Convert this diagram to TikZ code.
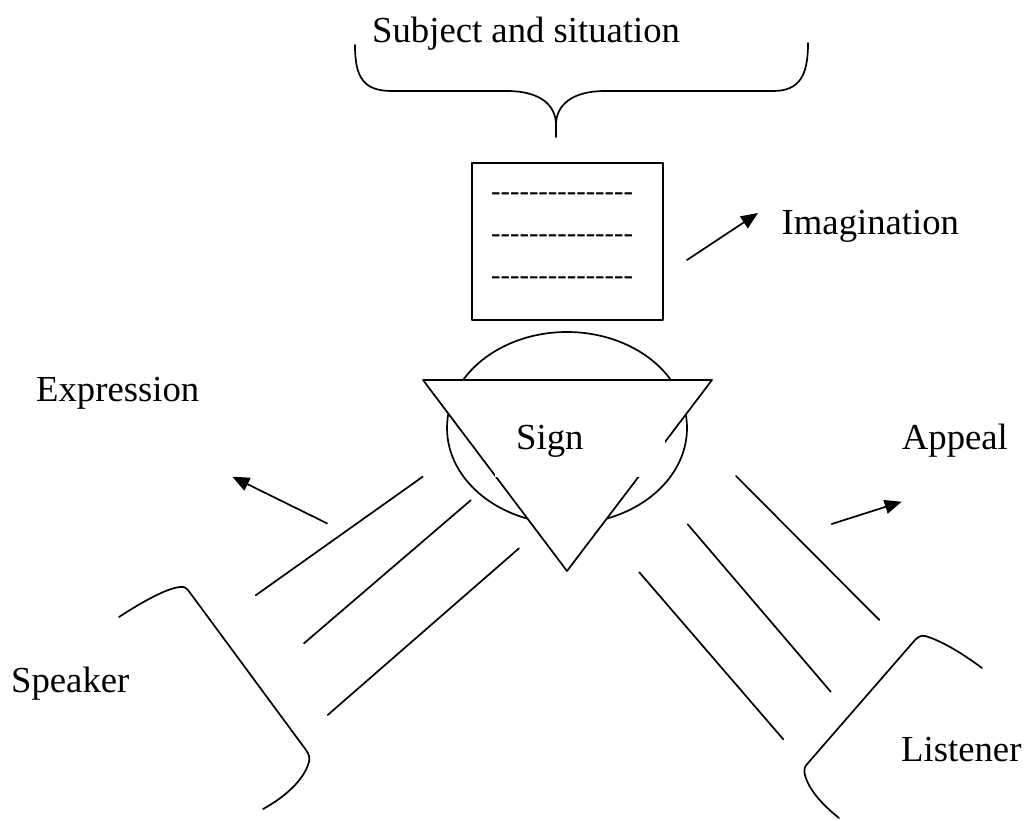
\documentclass[tikz,border=0pt]{standalone}
\usepackage{fontspec}
\setmainfont{Liberation Serif}
\usetikzlibrary{arrows.meta}
\newcommand\hy{\mbox{-}}
\newcommand\hyrow{\hy\hy\hy\hy\hy\hy\hy\hy\hy\hy\hy\hy\hy\hy\hy}
\begin{document}
\begin{tikzpicture}[x=1pt,y=-1pt,
  ln/.style={line width=1.7pt, line cap=round, line join=round},
  arr/.style={ln, -{Triangle[length=17pt,width=14pt]}},
  lbl/.style={anchor=base west, inner sep=0pt, font=\fontsize{36.7}{44}\selectfont},
  hyl/.style={anchor=base west, inner sep=0pt, font=\fontsize{28.4}{34}\selectfont}]
\useasboundingbox (0,0) rectangle (1025,820);
% brace
\draw[ln] (355,45) .. controls (355,77) and (363,91) .. (392,91) -- (507,91)
  .. controls (540,91) and (556,105) .. (556,125) -- (556,137);
\draw[ln] (556,125) .. controls (556,105) and (572,91) .. (605,91) -- (773,91)
  .. controls (800,91) and (808,75) .. (808,43);
\node[lbl] (subj) at (372,42) {Subject and situation};
% imagination box
\draw[ln, line cap=butt] (472,163) rectangle (663,320);
\node[hyl] (h1) at (491,200) {\hyrow};
\node[hyl] (h2) at (491,242) {\hyrow};
\node[hyl] (h3) at (491,284) {\hyrow};
\coordinate (ia) at (687,260);
\coordinate (ib) at (758,213);
\draw[arr] (ia) -- (ib);
\node[lbl] (imag) at (781.5,234) {Imagination};
% sign
\draw[ln] (567,428) ellipse [x radius=120, y radius=96];
\draw[ln, fill=white] (423,380) -- (712,380) -- (567,571) -- cycle;
\fill[white] (495,400) rectangle (665,477);
\node[lbl] (sign) at (516,449) {Sign};
% left lines
\coordinate (l1a) at (422.7,476.7); \coordinate (l1b) at (255.7,595.3);
\coordinate (l2a) at (470.7,500.3); \coordinate (l2b) at (304,643.3);
\coordinate (l3a) at (519,548.3);   \coordinate (l3b) at (327.7,715);
\draw[ln] (l1a) -- (l1b);
\draw[ln] (l2a) -- (l2b);
\draw[ln] (l3a) -- (l3b);
\coordinate (ea) at (327,523.3);
\coordinate (eb) at (232.3,476.7);
\draw[arr] (ea) -- (eb);
\node[lbl] (expr) at (36,401.7) {Expression};
% right lines
\coordinate (r1a) at (736,476);     \coordinate (r1b) at (879.3,620);
\coordinate (r2a) at (687.7,524.3); \coordinate (r2b) at (830.7,691.7);
\coordinate (r3a) at (639.3,572.3); \coordinate (r3b) at (783.3,739.3);
\draw[ln] (r1a) -- (r1b);
\draw[ln] (r2a) -- (r2b);
\draw[ln] (r3a) -- (r3b);
\coordinate (aa) at (831.7,524);
\coordinate (ab) at (901.7,501.7);
\draw[arr] (aa) -- (ab);
\node[lbl] (appeal) at (901.7,449.3) {Appeal};
% speaker
\draw[ln] (119,617) .. controls (145,600) and (168,588) .. (180,587)
  .. controls (184,586.5) and (186,587.5) .. (188,590) -- (306,750)
  .. controls (309,754) and (310,758) .. (309,762)
  .. controls (304,780) and (285,797) .. (263,809);
\node[lbl] (speaker) at (11,692) {Speaker};
% listener
\draw[ln] (982,668) .. controls (962,653) and (940,640) .. (925,636)
  .. controls (921,635) and (918,637) .. (915,640) -- (808,763)
  .. controls (805,766) and (804,769) .. (804.5,773)
  .. controls (808,790) and (824,806) .. (839,818);
\node[lbl] (listener) at (901,761.7) {Listener};
\end{tikzpicture}
\end{document}
